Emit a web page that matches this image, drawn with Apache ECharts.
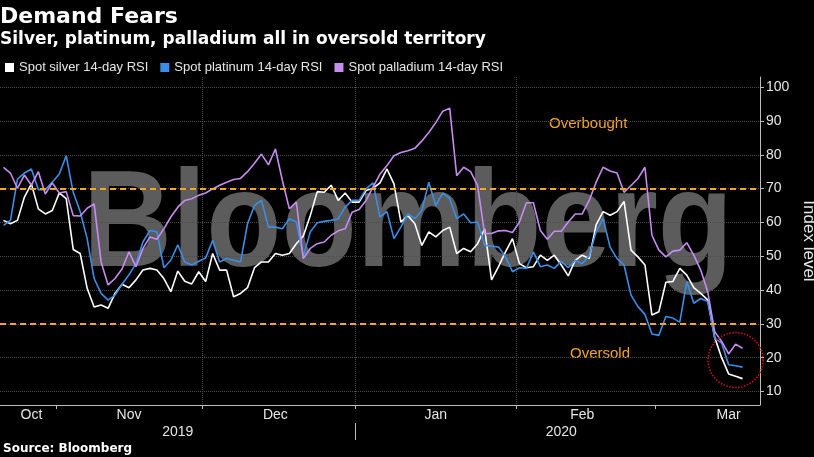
<!DOCTYPE html>
<html>
<head>
<meta charset="utf-8">
<script src="https://cdn.jsdelivr.net/npm/echarts@6/dist/echarts.min.js"></script>
<style>
  html, body { margin: 0; padding: 0; background: #000; }
  #chart { width: 814px; height: 457px; }
</style>
</head>
<body>
<div id="chart"></div>
<script>
// trading days (weekdays) shown on the axis
const startDay = '2019-10-22';
const endDay = '2020-03-20';
const dates = [];
for (let d = new Date(startDay + 'T00:00:00Z'); d <= new Date(endDay + 'T00:00:00Z'); d.setUTCDate(d.getUTCDate() + 1)) {
  const w = d.getUTCDay();
  if (w !== 0 && w !== 6) dates.push(d.toISOString().slice(0, 10));
}

// 14-day RSI
const silver = [60.6, 59.6, 60.6, 67.5, 71.4, 64, 62.5, 63.5, 68.7, 67, 52, 50.8, 40.5, 35, 35.6, 34.6, 39, 41.7, 40.7, 43,
  45.9, 46.4, 45.9, 43.4, 39.5, 45.6, 42.6, 41.8, 45.4, 42.5, 50.8, 45.9, 45.9, 38, 39, 40.7, 46.6, 48.3, 48.3, 50.8,
  50.3, 50.8, 53.7, 56, 62, 69.1, 68.9, 71, 66.5, 68.7, 66, 66, 69.4, 70.1, 71.7, 75.8, 71.4, 60.1, 62, 59.6,
  53.2, 57.2, 55.7, 57.6, 58.6, 50.8, 52.3, 51.3, 53.7, 58.1, 43, 46.9, 51.3, 55.2, 47.8, 46.6, 46.9, 50.3, 48.8, 50.3,
  47.4, 44.2, 48.8, 50.3, 49.3, 59.3, 63.2, 62.1, 63.2, 66.2, 51.8, 49.8, 47.4, 32.6, 33.6, 42.3, 42.5, 46.4, 44.4, 40.7,
  39, 37.1, 26, 20, 15.2, 14.5, 13.8];
const platinum = [59.1, 60.6, 72.8, 74.6, 75.8, 69.7, 69.7, 71.9, 74.3, 79.7, 68.9, 63.2, 55.2, 43.4, 39, 37, 38.5, 41.7, 44.5, 47.8,
  54.2, 57.6, 57.2, 46.6, 48.8, 53.4, 48.3, 47.4, 48.5, 49.5, 54.7, 48.3, 49.3, 48.8, 48.3, 59.6, 65, 66.5, 58.6, 58.6,
  58.1, 61.1, 60.1, 49.8, 57.2, 59.9, 60.3, 60.6, 61.1, 64.5, 66.5, 66.5, 69.9, 71.7, 61.6, 63.2, 55.2, 58.6, 62.5, 61.1,
  63.5, 71.9, 65, 68.7, 67, 61.1, 62.5, 59.9, 60.1, 53.2, 53, 52.7, 49.8, 45.4, 46.6, 46.4, 51.3, 46.9, 47.4, 46.4,
  48.5, 46.6, 48.8, 47.8, 50.1, 57.2, 61.1, 52.7, 49.3, 47.4, 38.5, 35.1, 32.8, 27, 26.6, 32.2, 31.7, 30.5, 42.5, 36.1,
  37.5, 36.6, 25.8, 24.3, 17.9, 17.6, 17.2];
const palladium = [76.3, 74.6, 70.1, 74, 71, 75, 68.4, 71.7, 68.7, 69.1, 62, 61.9, 64.2, 65.5, 48.3, 41.5, 43.4, 46.2, 51.3, 46.9,
  52.3, 55.7, 55, 58.1, 61.6, 64.5, 66.5, 67, 68, 68.7, 69.9, 71, 71.9, 72.7, 73, 75, 77.5, 80.2, 77, 81.7,
  72.4, 64, 66, 49.3, 52.3, 53.7, 54.2, 56.2, 57.5, 58.1, 63, 63.8, 66.5, 70.4, 74.3, 76.8, 79.7, 80.7, 81.2, 81.9,
  84.1, 86.6, 89.5, 92.9, 93.8, 73.8, 76.3, 75, 70.9, 56.7, 56.7, 57.5, 57.6, 57, 60.1, 65.8, 65.8, 57.6, 55, 57.4,
  57.4, 60.1, 62.5, 62.5, 66.5, 71.9, 76.3, 75.2, 74.6, 68.9, 70.9, 73, 76.3, 56.2, 51.8, 49.8, 51.5, 51.8, 54, 50.3,
  45.9, 39.5, 27.7, 24.8, 21.1, 24, 22.8];

// axis labels and marks
const yTicks = [10, 20, 30, 40, 50, 60, 70, 80, 90, 100];
const thresholds = [70, 30];
const monthStarts = ['2019-11-01', '2019-12-02', '2020-01-01', '2020-02-03', '2020-03-02'];
const monthLabels = { '2019-10-28': 'Oct', '2019-11-15': 'Nov', '2019-12-16': 'Dec', '2020-01-16': 'Jan', '2020-02-14': 'Feb', '2020-03-16': 'Mar' };
const yearStarts = ['2020-01-01'];
const yearLabels = { '2019-11-26': '2019', '2020-02-11': '2020' };
const circleAt = ['2020-03-17', 19.3];

const ORANGE = '#f5a623';
const GRID_COLOR = '#4d4d4d';
const AXIS_COLOR = '#bdbdbd';
const TEXT_COLOR = '#e6e6e6';
const SANS = '"Liberation Sans", Arial, sans-serif';
const BOLD = '"DejaVu Sans", sans-serif';

const idx = (d) => dates.indexOf(d);
const bandAxis = {
  type: 'value',
  gridIndex: 0,
  position: 'bottom',
  min: -0.5,
  max: dates.length - 0.5,
  axisLine: { show: false, onZero: false },
};

const chart = echarts.init(document.getElementById('chart'));
chart.setOption({
  backgroundColor: '#000',
  animation: false,
  title: [
    {
      text: 'Demand Fears',
      subtext: 'Silver, platinum, palladium all in oversold territory',
      left: 0,
      top: 6,
      padding: 0,
      itemGap: 3,
      textStyle: { color: '#fff', fontSize: 22, fontWeight: 'bold', fontFamily: BOLD },
      subtextStyle: { color: '#fff', fontSize: 17, fontWeight: 'bold', fontFamily: BOLD },
    },
    {
      text: 'Source: Bloomberg',
      left: 3,
      top: 443,
      padding: 0,
      textStyle: { color: '#fff', fontSize: 12, fontWeight: 'bold', fontFamily: BOLD },
    },
  ],
  legend: {
    left: 5,
    top: 61,
    padding: 0,
    icon: 'rect',
    itemWidth: 9,
    itemHeight: 9,
    itemGap: 12,
    textStyle: { color: TEXT_COLOR, fontSize: 13, fontFamily: SANS },
  },
  grid: { left: 0, right: 54, top: 77, bottom: 52, outerBoundsMode: 'none' },
  graphic: [
    {
      type: 'text',
      z: -1,
      x: 83,
      y: 228,
      scaleX: 0.8925,
      silent: true,
      style: { text: 'Bloomberg', fill: '#5c5c5c', font: 'bold 138px "Liberation Sans"', verticalAlign: 'middle' },
    },
    {
      type: 'text',
      x: 549,
      y: 124,
      silent: true,
      style: { text: 'Overbought', fill: ORANGE, font: '15px "Liberation Sans"', verticalAlign: 'middle' },
    },
    {
      type: 'text',
      x: 570,
      y: 354,
      silent: true,
      style: { text: 'Oversold', fill: ORANGE, font: '15px "Liberation Sans"', verticalAlign: 'middle' },
    },
  ],
  xAxis: [
    {
      type: 'category',
      data: dates,
      boundaryGap: true,
      position: 'bottom',
      axisLine: { onZero: false, lineStyle: { color: AXIS_COLOR, width: 1 } },
      axisTick: { show: false },
      splitLine: { show: false },
      axisLabel: {
        interval: (i, v) => monthLabels[v] !== undefined,
        formatter: (v) => monthLabels[v],
        margin: 3,
        color: TEXT_COLOR,
        fontSize: 14,
        fontFamily: SANS,
      },
    },
    {
      ...bandAxis,
      axisTick: { show: true, length: 4, customValues: monthStarts.map((d) => idx(d) - 0.5), lineStyle: { color: AXIS_COLOR } },
      axisLabel: { show: false },
      splitLine: { show: true, showMinLine: false, showMaxLine: false, lineStyle: { color: GRID_COLOR, type: 'dotted', width: 1 } },
    },
    {
      ...bandAxis,
      offset: 18,
      axisTick: { show: true, length: 17, customValues: yearStarts.map((d) => idx(d) - 0.5), lineStyle: { color: AXIS_COLOR } },
      axisLabel: {
        customValues: Object.keys(yearLabels).map(idx),
        formatter: (v) => yearLabels[dates[Math.round(v)]],
        margin: 2,
        color: TEXT_COLOR,
        fontSize: 14,
        fontFamily: SANS,
      },
      splitLine: { show: false },
    },
  ],
  yAxis: {
    type: 'value',
    position: 'right',
    min: 6,
    max: 103,
    name: 'Index level',
    nameLocation: 'middle',
    nameRotate: -90,
    nameGap: 32,
    nameTextStyle: { color: TEXT_COLOR, fontSize: 17, fontFamily: SANS },
    axisLine: { show: true, onZero: false, lineStyle: { color: AXIS_COLOR, width: 1 } },
    axisTick: { show: true, length: 4, customValues: yTicks, lineStyle: { color: AXIS_COLOR } },
    axisLabel: { customValues: yTicks, margin: 6, color: TEXT_COLOR, fontSize: 14, fontFamily: SANS },
    splitLine: { show: true, lineStyle: { color: GRID_COLOR, type: 'dotted', width: 1 } },
  },
  series: [
    {
      name: 'Spot silver 14-day RSI',
      type: 'line',
      data: silver,
      color: '#ffffff',
      symbol: 'none',
      lineStyle: { width: 1.6 },
      markLine: {
        silent: true,
        symbol: 'none',
        label: { show: false },
        lineStyle: { color: ORANGE, type: [6, 4], width: 2 },
        data: thresholds.map((v) => ({ yAxis: v })),
      },
      markPoint: {
        silent: true,
        symbol: 'circle',
        symbolSize: 55,
        label: { show: false },
        itemStyle: { color: 'transparent', borderColor: '#d0102a', borderWidth: 1.5, borderType: 'dotted' },
        data: [{ coord: circleAt }],
      },
    },
    {
      name: 'Spot platinum 14-day RSI',
      type: 'line',
      data: platinum,
      color: '#3a8ee6',
      symbol: 'none',
      lineStyle: { width: 1.6 },
    },
    {
      name: 'Spot palladium 14-day RSI',
      type: 'line',
      data: palladium,
      color: '#c68cf0',
      symbol: 'none',
      lineStyle: { width: 1.6 },
    },
  ],
});
window.addEventListener('resize', () => chart.resize());
</script>
</body>
</html>
